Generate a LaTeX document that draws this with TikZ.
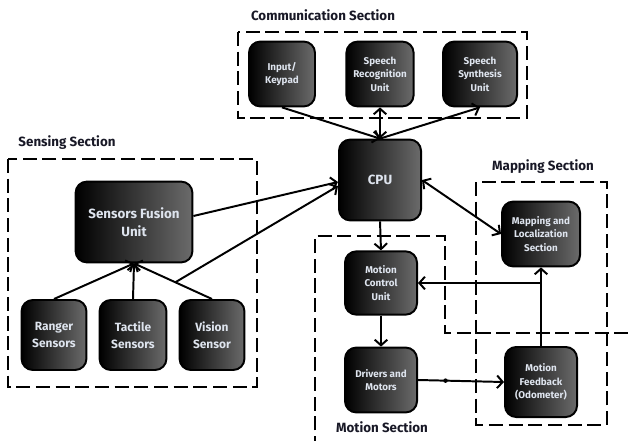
\documentclass[tikz,border=0pt]{standalone}
\usepackage{fontspec}
\setmainfont{Fira Sans}
\usetikzlibrary{arrows.meta,calc}
\definecolor{testo}{RGB}{222,228,238}
\definecolor{titolo}{RGB}{24,24,38}
\tikzset{
  blocco/.style={draw=black,line width=1.4pt,rounded corners=8pt,
                 left color=black,right color=black!58,text=testo,
                 align=center,inner sep=1pt},
  piccolo/.style={font=\bfseries\fontsize{7}{9.5}\selectfont},
  medio/.style={font=\bfseries\fontsize{8.5}{12}\selectfont},
  grande/.style={font=\bfseries\fontsize{9.5}{13}\selectfont},
  sezione/.style={draw=black,line width=1.8pt,dash pattern=on 10pt off 4pt},
  titsez/.style={text=titolo,font=\bfseries\fontsize{9.5}{12}\selectfont},
  freccia/.style={line width=1.4pt,->},
}
\begin{document}
\begin{tikzpicture}[x=0.025cm,y=-0.025cm,>={Straight Barb[length=4pt,width=9pt]}]
\useasboundingbox (0,0) rectangle (629,440);
\clip (0,0) rectangle (629,440);

% sezioni
\draw[sezione] (238,32) rectangle (527,118);
\draw[sezione] (8,159) rectangle (257,387);
\draw[sezione] (476,182) rectangle (607,425);
\draw[sezione] (315,450)--(315,236)--(445,236)--(445,333)--(630.5,333)--(630.5,450);

\node[titsez] (tcom) at (323,15)  {Communication Section};
\node[titsez] (tsen) at (67,143)  {Sensing Section};
\node[titsez] (tmap) at (543,167) {Mapping Section};
\node[titsez] (tmot) at (382,427) {Motion Section};

% blocchi
\node[blocco,piccolo,minimum width=1.65cm,minimum height=1.62cm] (inp)  at (282,74) {Input/\\Keypad};
\node[blocco,piccolo,minimum width=1.68cm,minimum height=1.62cm] (srec) at (380,74) {Speech\\Recognition\\Unit};
\node[blocco,piccolo,minimum width=1.85cm,minimum height=1.62cm] (ssyn) at (480,74) {Speech\\Synthesis\\Unit};

\node[blocco,grande,minimum width=2.05cm,minimum height=2.02cm] (cpu) at (380,180) {CPU};

\node[blocco,grande,minimum width=2.92cm,minimum height=2.02cm] (fus) at (134,222) {Sensors Fusion\\Unit};
\node[blocco,medio,minimum width=1.62cm,minimum height=1.75cm] (rng) at (54,335)  {Ranger\\Sensors};
\node[blocco,medio,minimum width=1.67cm,minimum height=1.75cm] (tac) at (133,335) {Tactile\\Sensors};
\node[blocco,medio,minimum width=1.62cm,minimum height=1.75cm] (vis) at (212,335) {Vision\\Sensor};

\node[blocco,piccolo,minimum width=1.95cm,minimum height=1.62cm] (map) at (541,234) {Mapping and\\Localization\\Section};
\node[blocco,piccolo,minimum width=1.8cm,minimum height=1.58cm]  (mcu) at (381,283) {Motion\\Control\\Unit};
\node[blocco,piccolo,minimum width=1.8cm,minimum height=1.62cm]  (drv) at (381,380) {Drivers and\\Motors};
\node[blocco,piccolo,minimum width=1.8cm,minimum height=1.75cm]  (mfb) at (541,382) {Motion\\Feedback\\(Odometer)};

% collegamenti
\draw[freccia] (inp.south) -- (cpu.north);
\draw[freccia,<->] (cpu.north) -- (srec.south);
\draw[freccia] (cpu.north) -- (ssyn.south);

\draw[freccia] (rng.north) -- (fus.south);
\draw[freccia] (tac.north) -- (fus.south);
\draw[freccia] (vis.north) -- (fus.south);
\coordinate (vbr) at ($(vis.north)!0.47!(fus.south)$);
\draw[freccia] ($(fus.east)+(0,-6)$) -- ($(cpu.west)+(0,2)$);
\draw[freccia] (vbr) -- ($(cpu.west)+(0,6)$);

\draw[freccia,<->] (cpu.east) -- (map.west);
\draw[freccia] (cpu.south) -- (mcu.north);
\draw[freccia] (mcu.south) -- (drv.north);

\coordinate (pt) at ($(drv.east)!0.32!(mfb.west)$);
\draw[freccia] (drv.east) -- (mfb.west);
\fill (pt) circle (1.6pt);

\draw[freccia] (mfb.north) -- (map.south);
\coordinate (br) at (map.south |- mcu.east);
\draw[freccia] (br) -- (mcu.east);
\end{tikzpicture}
\end{document}
